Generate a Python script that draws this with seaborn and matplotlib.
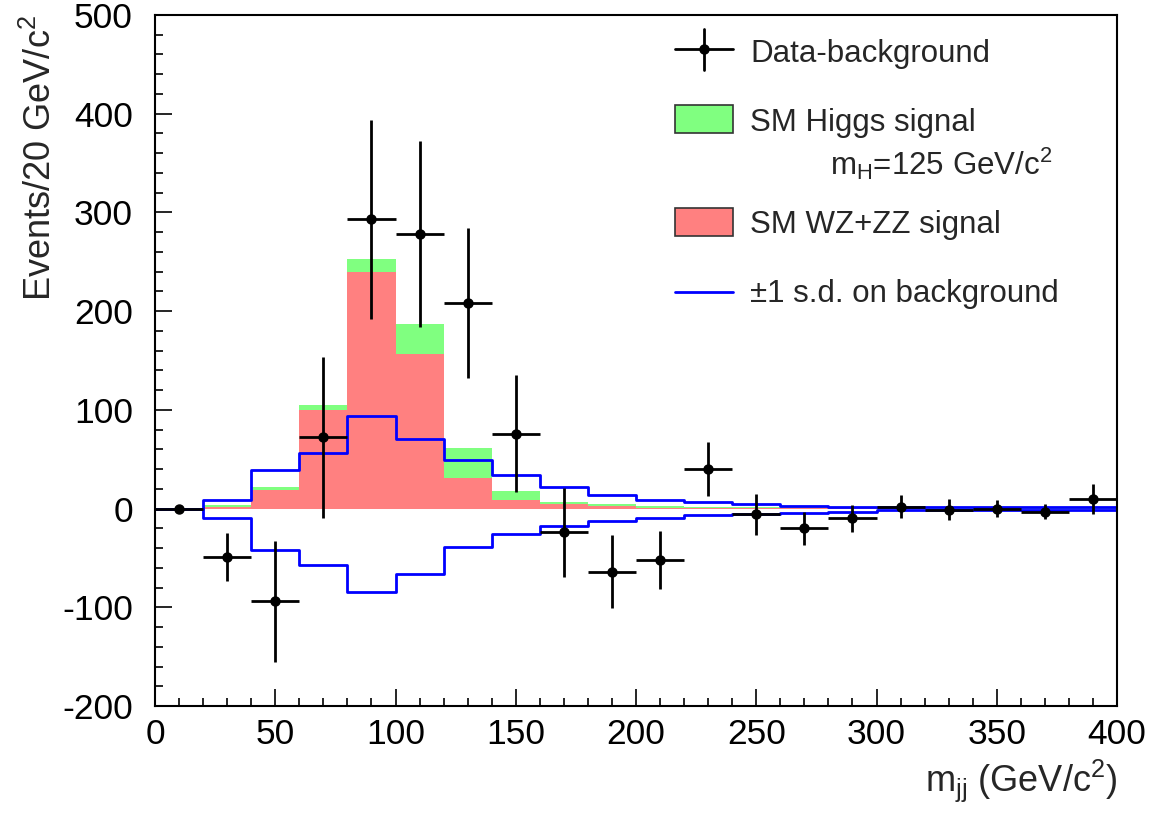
import numpy as np
import pandas as pd
import matplotlib
matplotlib.use("Agg")
import matplotlib.pyplot as plt
import seaborn as sns
from matplotlib.patches import Rectangle
from matplotlib.lines import Line2D

# ---------------- data ----------------
bin_edges = list(range(0, 420, 20))
bin_centers = [10, 30, 50, 70, 90, 110, 130, 150, 170, 190,
               210, 230, 250, 270, 290, 310, 330, 350, 370, 390]
data_minus_bkg = [0, -49, -94, 72, 293, 278, 208, 76, -24, -64,
                  -52, 40, -6, -20, -10, 2, -1, 0, -3, 10]
data_err = [0, 24, 61, 82, 101, 94, 76, 59, 45, 37,
            29, 27, 21, 17, 14, 12, 10.5, 9, 7.5, 15]
wz_zz_signal = [0, 2, 19, 100, 240, 157, 31, 9, 4.5, 2.5,
                1, 0.5, 0.3, 0.2, 0.1, 0, 0, 0, 0, 0]
higgs_signal = [0, 2, 3, 5, 13, 30, 30, 9, 2.3, 2,
                2, 1.5, 1.2, 1, 0.8, 0.6, 0.5, 0.4, 0.3, 0.2]
bkg_up = [0, 9, 39, 56.5, 94, 70, 49, 34, 22, 13.6,
          8.8, 6.8, 4.4, 2.4, 2, 1.7, 1.5, 1.3, 1.2, 1.2]
bkg_down = [0, -10, -41.6, -57, -85, -66, -38.6, -25.4, -17.6, -13,
            -9.8, -6.8, -5.7, -4.7, -3, -1.5, -1.3, -1.2, -1.1, -1.2]
x_ticks = [0, 50, 100, 150, 200, 250, 300, 350, 400]
y_ticks = [-200, -100, 0, 100, 200, 300, 400, 500]

GREEN = "#80FF80"
RED = "#FF8080"
BLUE = "#0000FF"

sns.set_style("white")
plt.rcParams["font.family"] = ["Liberation Sans", "DejaVu Sans"]
plt.rcParams["mathtext.default"] = "regular"
plt.rcParams["axes.unicode_minus"] = False

df = pd.DataFrame({
    "center": bin_centers,
    "total": np.array(wz_zz_signal) + np.array(higgs_signal),
    "wz": wz_zz_signal,
    "up": bkg_up,
    "down": bkg_down,
})

fig = plt.figure(figsize=(11.63, 8.18), dpi=100)
ax = fig.add_axes([155 / 1163, 1 - 706 / 818, 962 / 1163, 691 / 818])

# stacked signal: total (green) then WZ+ZZ (red) on top
sns.histplot(data=df, x="center", weights="total", bins=bin_edges,
             color=GREEN, alpha=1, linewidth=0, ax=ax)
sns.histplot(data=df, x="center", weights="wz", bins=bin_edges,
             color=RED, alpha=1, linewidth=0, ax=ax)
# +-1 s.d. background band
sns.histplot(data=df, x="center", weights="up", bins=bin_edges,
             element="step", fill=False, color=BLUE, linewidth=2, ax=ax)
sns.histplot(data=df, x="center", weights="down", bins=bin_edges,
             element="step", fill=False, color=BLUE, linewidth=2, ax=ax)

# data - background
ax.errorbar(bin_centers, data_minus_bkg, yerr=data_err, xerr=10,
            fmt="o", color="black", markersize=6.5, elinewidth=2,
            capsize=0, zorder=5)

ax.set_xlim(0, 400)
ax.set_ylim(-200, 500)
ax.set_xticks(x_ticks)
ax.set_yticks(y_ticks)
ax.set_xticks(np.arange(0, 401, 10), minor=True)
ax.set_yticks(np.arange(-200, 501, 20), minor=True)
ax.tick_params(which="both", direction="in", top=False, right=False,
               left=True, bottom=True, width=1.2, colors="black",
               labelsize=25.5)
ax.tick_params(which="major", length=12)
ax.tick_params(which="minor", length=6)
ax.tick_params(axis="y", which="major", pad=16)
ax.tick_params(axis="x", which="major", pad=9)
for s in ax.spines.values():
    s.set_linewidth(1.5)
    s.set_color("black")

ax.set_xlabel("$m_{jj}$ (GeV/c$^{2}$)", fontsize=26, loc="right", labelpad=4)
ax.set_ylabel("Events/20 GeV/c$^{2}$", fontsize=26, loc="top", labelpad=2)

# ---------------- legend (hand placed) ----------------
T = ax.transAxes
fs = 22.5
x0, x1 = 0.5405, 0.6008
xm = 0.5707
tx = 0.6185
ax.add_line(Line2D([x0, x1], [0.9508, 0.9508], transform=T, color="black", lw=2))
ax.add_line(Line2D([xm, xm], [0.9204, 0.9797], transform=T, color="black", lw=2))
ax.add_line(Line2D([xm], [0.9508], transform=T, color="black", marker="o",
                   markersize=6.5, lw=0))
ax.text(tx, 0.9324, "Data-background", transform=T, fontsize=fs, va="baseline")

ax.add_patch(Rectangle((x0, 0.8292), x1 - x0, 0.0406, transform=T,
                       facecolor=GREEN, edgecolor="#333333", lw=1.2))
ax.text(tx, 0.8323, "SM Higgs signal", transform=T, fontsize=fs, va="baseline")
ax.text(0.7017, 0.7685, "m$_{H}$=125 GeV/c$^{2}$", transform=T, fontsize=fs,
        va="baseline")

ax.add_patch(Rectangle((x0, 0.680), x1 - x0, 0.0407, transform=T,
                       facecolor=RED, edgecolor="#333333", lw=1.2))
ax.text(tx, 0.684, "SM WZ+ZZ signal", transform=T, fontsize=fs, va="baseline")

ax.add_line(Line2D([x0, x1], [0.599, 0.599], transform=T, color=BLUE, lw=2))
ax.text(tx, 0.5851, "\u00b11 s.d. on background", transform=T, fontsize=fs,
        va="baseline")

fig.savefig("out.png", dpi=100)
